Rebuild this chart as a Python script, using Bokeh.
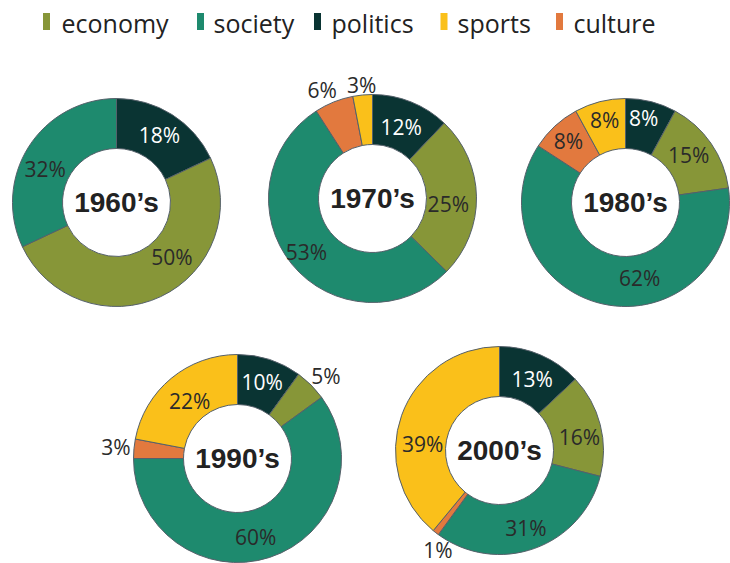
import math
from bokeh.plotting import figure
from bokeh.models import ColumnDataSource, Range1d
from bokeh.embed import file_html
from bokeh.resources import INLINE
from bokeh.core.properties import value

# ---------------- data ----------------
decades = ["1960\u2019s", "1970\u2019s", "1980\u2019s", "1990\u2019s", "2000\u2019s"]
categories = ["economy", "society", "politics", "sports", "culture"]
economy = [50, 25, 15, 5, 16]
society = [32, 53, 62, 60, 31]
politics = [18, 12, 8, 10, 13]
sports = [0, 3, 8, 22, 39]
culture = [0, 6, 8, 3, 1]

series = {"economy": economy, "society": society, "politics": politics,
          "sports": sports, "culture": culture}

# ---------------- styles / layout ----------------
colors = {"economy": "#879638", "society": "#1E8A6E", "politics": "#0A3433",
          "sports": "#FAC01A", "culture": "#E2793E"}
label_colors = {"economy": "#2a2a2a", "society": "#2a2a2a", "politics": "#ffffff",
                "sports": "#2a2a2a", "culture": "#2a2a2a"}
# slice order clockwise from 12 o'clock
order = ["politics", "economy", "society", "culture", "sports"]
# donut centres in page pixels (x, y from top)
centers = [(116, 202), (372, 198), (625, 202), (237, 458), (499, 450)]
outer_r = 104
inner_r = 54
# label radius and angular nudge (deg) per decade, following `order`
label_r = [[80, 78, 79, 0, 0],
           [77, 76, 85, 120, 114],
           [86, 79, 77, 84, 85],
           [80, 121, 81, 122, 75],
           [79, 81, 82, 117, 77]]
label_shift = [[0, -20, -7, 0, 0],
               [0, 5, 0, -3, 0],
               [-2, -2, -23, 0, 0],
               [0, 2, 5, 0, 0],
               [1, 5, 1, -6, -15]]
legend_square_x = [46, 200, 317, 443.5, 559]
legend_text_x = [61, 213, 331, 457, 573]
legend_y = 21

W, H = 730, 563
p = figure(width=W, height=H, x_range=Range1d(0, W), y_range=Range1d(0, H),
           x_axis_type=None, y_axis_type=None, toolbar_location=None,
           output_backend="svg", min_border=0)
p.outline_line_color = None
p.background_fill_color = "white"
p.border_fill_color = "white"

wx, wy, ws, we, wc = [], [], [], [], []
lx, ly, lt, lc = [], [], [], []
for d, (cx, cy) in enumerate(centers):
    vals = [series[c][d] for c in order]
    total = float(sum(vals))
    cum = 0.0
    for k, c in enumerate(order):
        v = vals[k]
        if v <= 0:
            continue
        a0 = cum / total
        a1 = (cum + v) / total
        wx.append(cx)
        wy.append(H - cy)
        ws.append(math.pi / 2 - 2 * math.pi * a1)
        we.append(math.pi / 2 - 2 * math.pi * a0)
        wc.append(colors[c])
        mid = math.radians((cum + v / 2.0) / total * 360.0 + label_shift[d][k])
        r = label_r[d][k]
        lx.append(cx + r * math.sin(mid))
        ly.append(H - (cy - r * math.cos(mid)))
        lt.append("%d%%" % v)
        lc.append(label_colors[c])
        cum += v

wsrc = ColumnDataSource(dict(x=wx, y=wy, s=ws, e=we, c=wc))
p.annular_wedge(x="x", y="y", inner_radius=inner_r, outer_radius=outer_r,
                start_angle="s", end_angle="e", direction="anticlock",
                fill_color="c", line_color="#55606a", line_width=1, source=wsrc)

lsrc = ColumnDataSource(dict(x=lx, y=ly, t=lt, c=lc))
p.text(x="x", y="y", text="t", text_color="c", text_font=value("Open Sans"),
       text_font_size="21px", text_align="center", text_baseline="middle", source=lsrc)

csrc = ColumnDataSource(dict(x=[c[0] for c in centers], y=[H - c[1] for c in centers], t=decades))
p.text(x="x", y="y", text="t", text_color="#222222", text_font=value("Liberation Sans"),
       text_font_style="bold", text_font_size="28px", text_align="center",
       text_baseline="middle", source=csrc)

# legend
gsrc = ColumnDataSource(dict(x=legend_square_x, y=[H - legend_y] * 5,
                             c=[colors[c] for c in categories]))
p.rect(x="x", y="y", width=7, height=17, fill_color="c", line_color=None, source=gsrc)
tsrc = ColumnDataSource(dict(x=legend_text_x, y=[H - legend_y - 1] * 5, t=categories))
p.text(x="x", y="y", text="t", text_color="#222222", text_font=value("Open Sans"),
       text_font_size="25px", text_align="left", text_baseline="middle", source=tsrc)

open("out.html", "w").write(file_html(p, INLINE))
